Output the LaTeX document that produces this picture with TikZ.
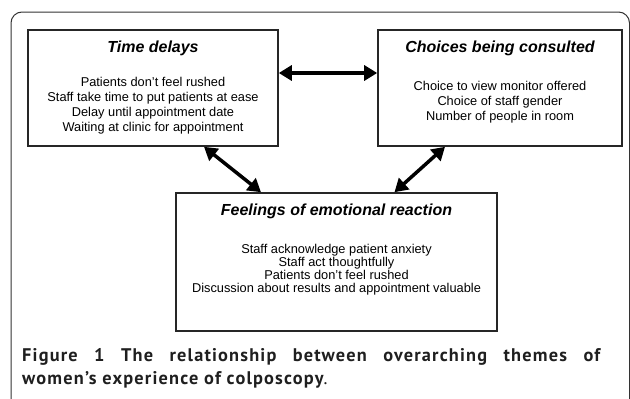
\documentclass[tikz,border=0pt]{standalone}
\usepackage{fontspec}
\setmainfont{Liberation Sans}
\newfontfamily\capfont[LetterSpace=6.5]{PT Sans}
\usetikzlibrary{arrows.meta}

\newcommand{\titlefont}{\fontsize{16}{19}\selectfont\bfseries\itshape}
% width, height, gap, body skip, title, lines
\newcommand{\themetext}[6]{\parbox[c][#2][t]{#1}{\centering
  \rule{0pt}{22pt}{\titlefont #5}\par\vspace{#3}%
  {\fontsize{12.8}{#4}\selectfont #6\par}}}

\tikzset{
  theme/.style={draw=black!85, line width=1.6pt, inner sep=0pt, fill=white},
  link/.style={{Triangle[length=13pt,width=15pt]}-{Triangle[length=13pt,width=15pt]}, line width=3.5pt},
}

\begin{document}
\begin{tikzpicture}[x=1pt, y=-1pt]
\clip (0,0) rectangle (630,399);
\draw[line width=1pt, black!80, rounded corners=11pt] (11,12) rectangle (629.5,412);
%
\node[theme] (delays) at (153,88)
  {\themetext{250pt}{116pt}{18.7pt}{15.3pt}{Time delays}
  {Patients don’t feel rushed\\ Staff take time to put patients at ease\\
   Delay until appointment date\\ Waiting at clinic for appointment}};
\node[theme] (choices) at (500,88)
  {\themetext{244pt}{116pt}{23pt}{15pt}{Choices being consulted}
  {Choice to view monitor offered\\ Choice of staff gender\\ Number of people in room}};
\node[theme] (feelings) at (336.5,262)
  {\themetext{321pt}{138pt}{25.7pt}{13pt}{Feelings of emotional reaction}
  {Staff acknowledge patient anxiety\\ Staff act thoughtfully\\
   Patients don’t feel rushed\\ Discussion about results and appointment valuable}};
%
\draw[link] ([yshift=15pt]delays.east) -- ([yshift=15pt]choices.west);
\draw[link] ([xshift=51pt]delays.south) -- ([xshift=-75.5pt]feelings.north);
\draw[link] ([xshift=-55pt]choices.south) -- ([xshift=58pt]feelings.north);
%
\node[anchor=north west, inner sep=0pt, text width=578pt, align=justify,
  font=\capfont\fontsize{18.3}{23}\selectfont, text=black!88] (caption) at (22,348)
  {\textbf{Figure 1 The relationship between overarching themes of\linebreak
   women’s experience of colposcopy}.};
\end{tikzpicture}
\end{document}
